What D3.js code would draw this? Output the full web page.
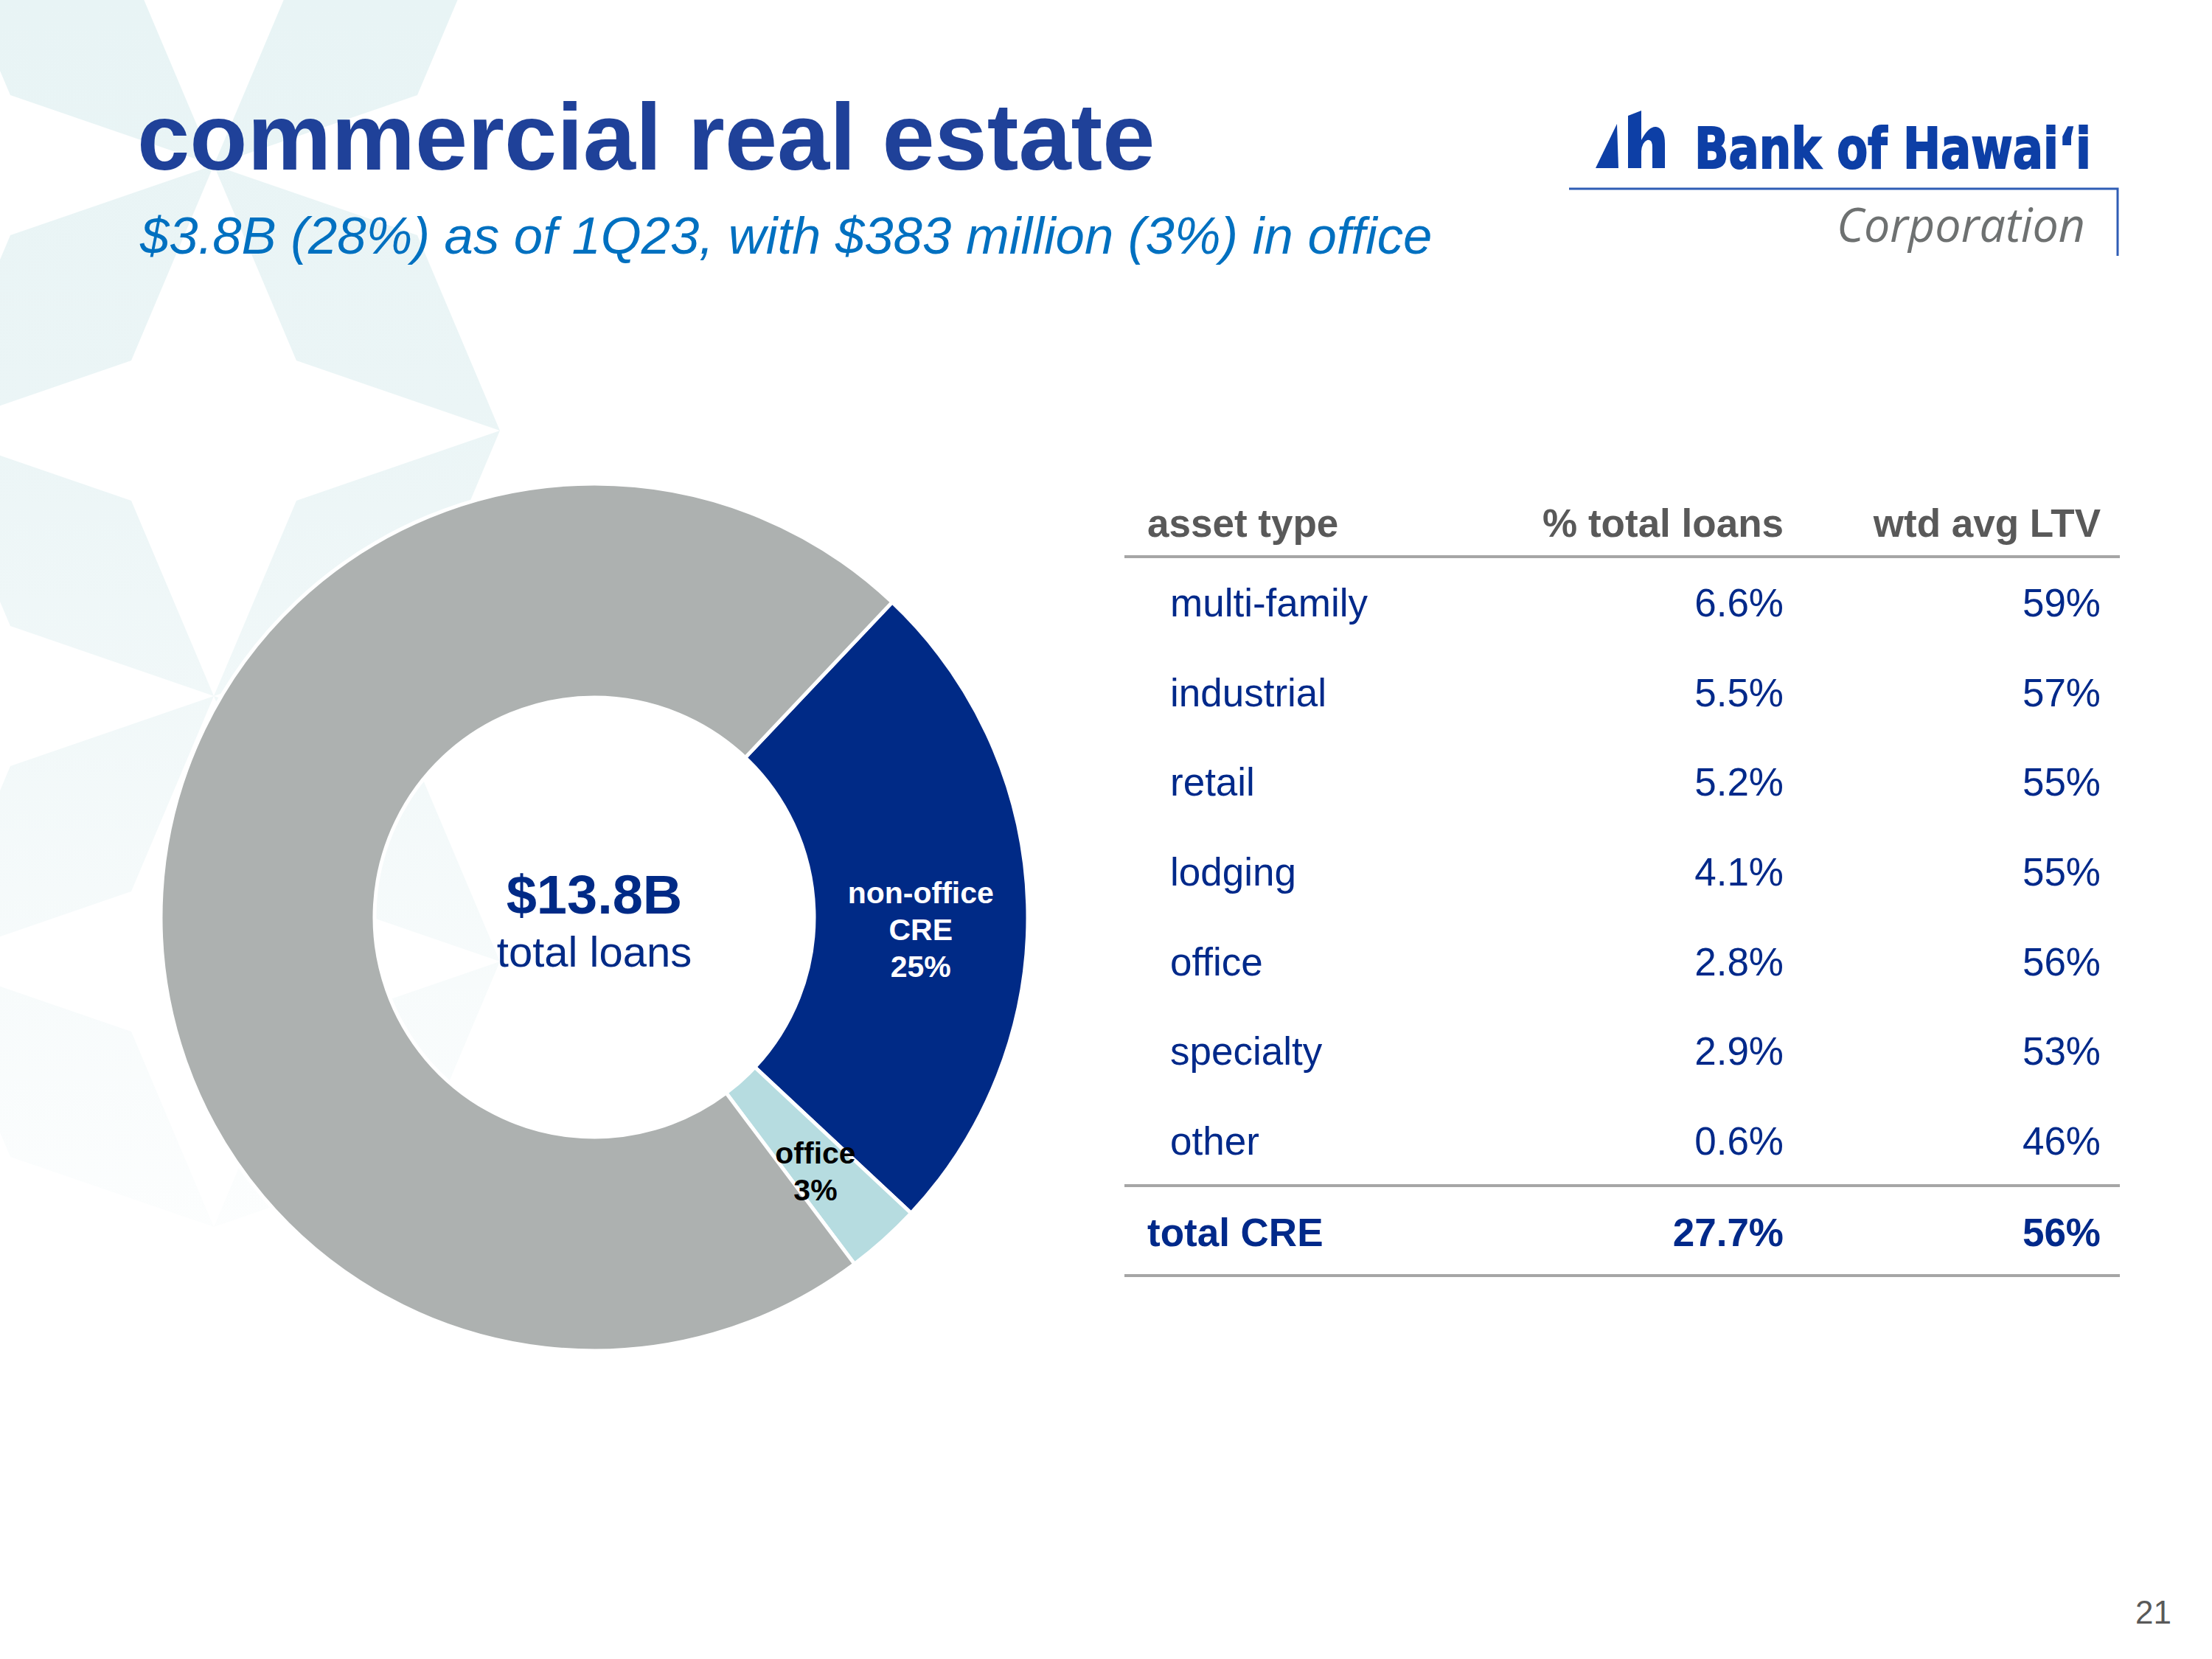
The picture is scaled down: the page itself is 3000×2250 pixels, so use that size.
<!DOCTYPE html>
<html>
<head>
<meta charset="utf-8">
<script src="https://cdn.jsdelivr.net/npm/d3@7"></script>
<style>
  html, body { margin: 0; padding: 0; background: #fff; }
  svg { display: block; font-family: "Liberation Sans", Arial, sans-serif; }
</style>
</head>
<body>
<script>
// slide data
const sliceNames = ["non-office CRE", "office", "other loans"];
const sliceValues = [24.9, 2.8, 72.3];
const sliceLabels = [["non-office", "CRE"], ["office"], []];

const centerValue = "$13.8B";
const centerText = "total loans";

const headers = ["asset type", "% total loans", "wtd avg LTV"];
const assetTypes = ["multi-family", "industrial", "retail", "lodging", "office", "specialty", "other"];
const pctTotalLoans = [6.6, 5.5, 5.2, 4.1, 2.8, 2.9, 0.6];
const wtdAvgLtv = [59, 57, 55, 55, 56, 53, 46];
const totalRow = ["total CRE", 27.7, 56];

const title = "commercial real estate";
const subtitle = "$3.8B (28%) as of 1Q23, with $383 million (3%) in office";
const pageNumber = "21";

const width = 3000;
const height = 2250;

const svg = d3.select('body')
  .append('svg')
  .attr('width', width)
  .attr('height', height);

svg.append('rect').attr('width', width).attr('height', height).attr('fill', '#fff');

// faint star pattern in the background
const grad = svg.append('defs').append('linearGradient')
  .attr('id', 'fade')
  .attr('gradientUnits', 'userSpaceOnUse')
  .attr('x1', 0).attr('y1', 0).attr('x2', 0).attr('y2', 1850);
grad.append('stop').attr('offset', 0).attr('stop-color', '#E8F4F5');
grad.append('stop').attr('offset', 0.3).attr('stop-color', '#EBF5F6');
grad.append('stop').attr('offset', 1).attr('stop-color', '#FFFFFF');

const gapCols = [96, 484];
const gapRows = [44, 404, 764, 1124, 1484];
const bg = svg.append('g');
gapCols.forEach((gx, k) => {
  gapRows.forEach((gy, m) => {
    const o = (k + m) % 2 === 0 ? -1 : 1;
    const pts = [
      [gx + 194, gy - o * 180],
      [gx + 82, gy + o * 85],
      [gx - 194, gy + o * 180],
      [gx - 82, gy - o * 85]
    ];
    bg.append('polygon')
      .attr('points', pts.map(p => p.join(',')).join(' '))
      .attr('fill', 'url(#fade)');
  });
});

// title
svg.append('text')
  .attr('x', 186).attr('y', 230)
  .attr('font-size', 128).attr('font-weight', 'bold')
  .attr('fill', '#1F4199')
  .text(title);

svg.append('text')
  .attr('x', 190).attr('y', 344)
  .attr('font-size', 70.7).attr('font-style', 'italic')
  .attr('fill', '#0070C0')
  .text(subtitle);

// logo
const logo = svg.append('g').attr('fill', '#0D3FA6');
logo.append('path').attr('d', 'M2164,228 L2193,168 L2195,228 Z');
logo.append('path').attr('d', 'M2208,157 L2226,150 L2226,190 Q2236,171 2246,172 Q2258,174 2258,195 L2258,228 L2241,228 L2241,200 Q2241,188 2234,190 Q2227,193 2226,205 L2226,228 L2208,228 Z');
logo.append('text')
  .attr('x', 2298).attr('y', 228)
  .attr('font-family', '"DejaVu Sans", sans-serif')
  .attr('font-size', 76).attr('font-weight', 'bold')
  .attr('stroke', '#0D3FA6').attr('stroke-width', 2)
  .attr('textLength', 538).attr('lengthAdjust', 'spacingAndGlyphs')
  .text('Bank of Hawai\u02BBi');

svg.append('path')
  .attr('d', 'M2128,256 L2872,256 L2872,347')
  .attr('fill', 'none')
  .attr('stroke', '#2F5DB5')
  .attr('stroke-width', 3);

svg.append('text')
  .attr('x', 2491).attr('y', 328)
  .attr('font-family', '"Open Sans", sans-serif')
  .attr('font-size', 64).attr('font-style', 'italic')
  .attr('fill', '#6E7171')
  .attr('textLength', 337).attr('lengthAdjust', 'spacingAndGlyphs')
  .text('Corporation');

// donut
const colors = d3.scaleOrdinal()
  .domain(sliceNames)
  .range(['#002A86', '#B6DCE0', '#ADB1B0']);

const startA = 43.4 * Math.PI / 180;
const pie = d3.pie()
  .sort(null)
  .value(d => d.value)
  .startAngle(startA)
  .endAngle(startA + 2 * Math.PI);

const arc = d3.arc().innerRadius(298).outerRadius(588);

const slices = pie(sliceNames.map((name, i) => ({ name, value: sliceValues[i], lines: sliceLabels[i] })));

const donut = svg.append('g').attr('transform', 'translate(806,1244)');

donut.selectAll('path')
  .data(slices)
  .enter()
  .append('path')
  .attr('d', arc)
  .attr('fill', d => colors(d.data.name))
  .attr('stroke', '#fff')
  .attr('stroke-width', 5);

const fmt = d3.format('.0f');
slices.forEach(d => {
  if (d.data.lines.length === 0) return;
  const lines = d.data.lines.concat([fmt(d.data.value) + '%']);
  const [cx, cy] = arc.centroid(d);
  const nudge = d.index === 0 ? 31 : 15;
  const t = donut.append('text')
    .attr('text-anchor', 'middle')
    .attr('font-size', 41).attr('font-weight', 'bold')
    .attr('fill', d.index === 0 ? '#fff' : '#000');
  lines.forEach((ln, i) => {
    t.append('tspan')
      .attr('x', cx + (d.index === 0 ? 0 : 4))
      .attr('y', cy + nudge + 14 + (i - (lines.length - 1) / 2) * 50)
      .text(ln);
  });
});

donut.append('text')
  .attr('text-anchor', 'middle').attr('y', -5)
  .attr('font-size', 74).attr('font-weight', 'bold')
  .attr('fill', '#002A86')
  .text(centerValue);

donut.append('text')
  .attr('text-anchor', 'middle').attr('y', 67)
  .attr('font-size', 58)
  .attr('fill', '#002A86')
  .text(centerText);

// table
const colX = [1587, 2419, 2849];
const rowY = d3.scalePoint().domain(assetTypes).range([836, 1566]);
const table = svg.append('g').attr('font-size', 53);

headers.forEach((h, i) => {
  table.append('text')
    .attr('x', i === 0 ? 1556 : colX[i]).attr('y', 728)
    .attr('text-anchor', i === 0 ? 'start' : 'end')
    .attr('font-weight', 'bold')
    .attr('fill', '#595959')
    .text(h);
});

const rows = table.selectAll('g.row')
  .data(assetTypes)
  .enter()
  .append('g')
  .attr('class', 'row')
  .attr('fill', '#00298A');

rows.append('text').attr('x', colX[0]).attr('y', d => rowY(d)).text(d => d);
rows.append('text').attr('x', colX[1]).attr('y', d => rowY(d)).attr('text-anchor', 'end')
  .text((d, i) => pctTotalLoans[i].toFixed(1) + '%');
rows.append('text').attr('x', colX[2]).attr('y', d => rowY(d)).attr('text-anchor', 'end')
  .text((d, i) => wtdAvgLtv[i] + '%');

const totalY = 1690;
table.append('text').attr('x', 1556).attr('y', totalY)
  .attr('font-weight', 'bold').attr('fill', '#00298A').text(totalRow[0]);
table.append('text').attr('x', colX[1]).attr('y', totalY).attr('text-anchor', 'end')
  .attr('font-weight', 'bold').attr('fill', '#00298A').text(totalRow[1].toFixed(1) + '%');
table.append('text').attr('x', colX[2]).attr('y', totalY).attr('text-anchor', 'end')
  .attr('font-weight', 'bold').attr('fill', '#00298A').text(totalRow[2] + '%');

[755, 1608, 1730].forEach(y => {
  table.append('line')
    .attr('x1', 1525).attr('x2', 2875)
    .attr('y1', y).attr('y2', y)
    .attr('stroke', '#A6A6A6')
    .attr('stroke-width', 4);
});

// page number
svg.append('text')
  .attr('x', 2945).attr('y', 2202)
  .attr('text-anchor', 'end')
  .attr('font-size', 44)
  .attr('fill', '#595959')
  .text(pageNumber);
</script>
</body>
</html>
